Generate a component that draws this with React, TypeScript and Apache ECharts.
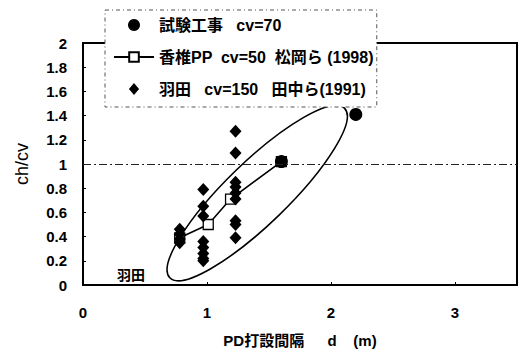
import React, { useEffect, useRef } from "react";
import * as echarts from "echarts";

// 試験工事 cv=70
const trialX = [1.6, 2.2];
const trialY = [1.02, 1.41];
// 香椎PP cv=50 松岡ら(1998)
const kashiiX = [0.78, 1.01, 1.19, 1.6];
const kashiiY = [0.39, 0.5, 0.71, 1.02];
// 羽田 cv=150 田中ら(1991)
const hanedaX = [0.78, 0.78, 0.78, 0.78, 0.97, 0.97, 0.97, 0.97, 0.97, 0.97, 0.97, 0.97, 1.23, 1.23, 1.23, 1.23, 1.23, 1.23, 1.23, 1.23, 1.23];
const hanedaY = [0.46, 0.42, 0.38, 0.35, 0.79, 0.65, 0.57, 0.36, 0.31, 0.26, 0.22, 0.2, 1.27, 1.09, 0.85, 0.81, 0.76, 0.71, 0.53, 0.5, 0.39];
// enclosing ellipse: major-axis end points (data units)
const ellipseEnds = [[0.7, 0.06, 2.11, 1.46]];
const ellipseRatio = 0.255;
const seriesNames = ["試験工事   cv=70", "香椎PP  cv=50  松岡ら (1998)", "羽田   cv=150   田中ら(1991)"];
const xTicks = [0, 1, 2, 3];
const yTicks = [0, 0.2, 0.4, 0.6, 0.8, 1, 1.2, 1.4, 1.6, 1.8, 2];

const FONT = "'Liberation Sans', 'Noto Sans CJK JP', sans-serif";
const DIAMOND = "path://M5.5,0L11,6.5L5.5,13L0,6.5Z";

export default function App() {
  const ref = useRef<HTMLDivElement>(null);
  useEffect(() => {
    const chart = echarts.init(ref.current!, null, { renderer: "svg" });
    const zip = (xs: number[], ys: number[]) => xs.map((x, i) => [x, ys[i]]);
    chart.setOption({
      animation: false,
      textStyle: { fontFamily: FONT },
      grid: { left: 83, top: 43, right: 5, bottom: 69, show: true, borderColor: "#000", borderWidth: 2, backgroundColor: "#fff" },
      legend: {
        orient: "vertical",
        left: 105,
        top: 10,
        padding: [6, 3, 9, 8],
        itemWidth: 40,
        itemHeight: 12,
        itemGap: 14,
        symbolKeepAspect: true,
        backgroundColor: "#fff",
        borderColor: "#555",
        borderWidth: 1,
        borderType: [4, 3, 1, 3],
        textStyle: { fontSize: 16, fontWeight: "bold", color: "#000", fontFamily: FONT, lineHeight: 18 },
        data: [
          { name: seriesNames[0], icon: "circle" },
          { name: seriesNames[1] },
          { name: seriesNames[2], icon: DIAMOND },
        ],
      },
      xAxis: {
        type: "value",
        min: 0,
        max: 3.5,
        interval: 1,
        name: "PD打設間隔　  d    (m)",
        nameLocation: "middle",
        nameGap: 48,
        nameTextStyle: { fontSize: 15, fontWeight: "bold", color: "#000", fontFamily: FONT },
        axisLine: { show: true, lineStyle: { color: "#000", width: 2 } },
        axisTick: { show: true, inside: true, length: 3, lineStyle: { color: "#000" } },
        splitLine: { show: false },
        axisLabel: {
          margin: 20,
          fontSize: 15,
          fontWeight: "bold",
          color: "#000",
          formatter: (v: number) => (xTicks.includes(v) ? String(v) : ""),
        },
      },
      yAxis: {
        type: "value",
        min: 0,
        max: 2,
        interval: 0.2,
        name: "ch/cv",
        nameLocation: "middle",
        nameRotate: 90,
        nameGap: 52,
        nameTextStyle: { fontSize: 18, color: "#000", fontFamily: FONT },
        axisLine: { show: true, lineStyle: { color: "#000", width: 2 } },
        axisTick: { show: true, inside: true, length: 3, lineStyle: { color: "#000" } },
        splitLine: { show: false },
        axisLabel: {
          margin: 16,
          fontSize: 15,
          fontWeight: "bold",
          color: "#000",
          formatter: (v: number) => {
            const t = yTicks.find((y) => Math.abs(y - v) < 1e-6);
            return t === undefined ? "" : String(t);
          },
        },
      },
      series: [
        {
          type: "custom",
          silent: true,
          clip: false,
          encode: { x: [0, 2], y: [1, 3] },
          renderItem: (params: any, api: any) => {
            const p1 = api.coord([api.value(0), api.value(1)]);
            const p2 = api.coord([api.value(2), api.value(3)]);
            const cx = (p1[0] + p2[0]) / 2;
            const cy = (p1[1] + p2[1]) / 2;
            const dx = p2[0] - p1[0];
            const dy = p2[1] - p1[1];
            const a = Math.hypot(dx, dy) / 2;
            return {
              type: "ellipse",
              x: cx,
              y: cy,
              rotation: Math.atan2(-dy, dx),
              shape: { cx: 0, cy: 0, rx: a, ry: a * ellipseRatio },
              style: { fill: "none", stroke: "#000", lineWidth: 1.6 },
            };
          },
          data: ellipseEnds,
          z: 1,
        },
        {
          name: seriesNames[1],
          type: "line",
          symbol: "rect",
          symbolSize: 10,
          showAllSymbol: true,
          lineStyle: { color: "#000", width: 1.6 },
          itemStyle: { color: "#fff", borderColor: "#000", borderWidth: 1.3 },
          data: zip(kashiiX, kashiiY),
          z: 2,
        },
        {
          name: seriesNames[2],
          type: "scatter",
          symbol: "diamond",
          symbolSize: [12, 13],
          itemStyle: { color: "#000", opacity: 1 },
          data: zip(hanedaX, hanedaY),
          markLine: {
            silent: true,
            symbol: "none",
            label: { show: false },
            lineStyle: { color: "#222", type: [8, 3, 2, 3], width: 1 },
            data: [{ yAxis: 1 }],
          },
          z: 3,
        },
        {
          name: seriesNames[0],
          type: "scatter",
          symbol: "circle",
          symbolSize: 13,
          itemStyle: { color: "#000", opacity: 1 },
          data: zip(trialX, trialY),
          z: 4,
        },
      ],
      graphic: [
        {
          type: "text",
          left: 117,
          top: 268,
          style: { text: "羽田", fontSize: 14, fontWeight: "bold", fill: "#000", fontFamily: FONT },
          z: 10,
        },
      ],
    });
    return () => chart.dispose();
  }, []);
  return <div ref={ref} style={{ width: 522, height: 354, position: "absolute", left: 0, top: 0 }} />;
}
